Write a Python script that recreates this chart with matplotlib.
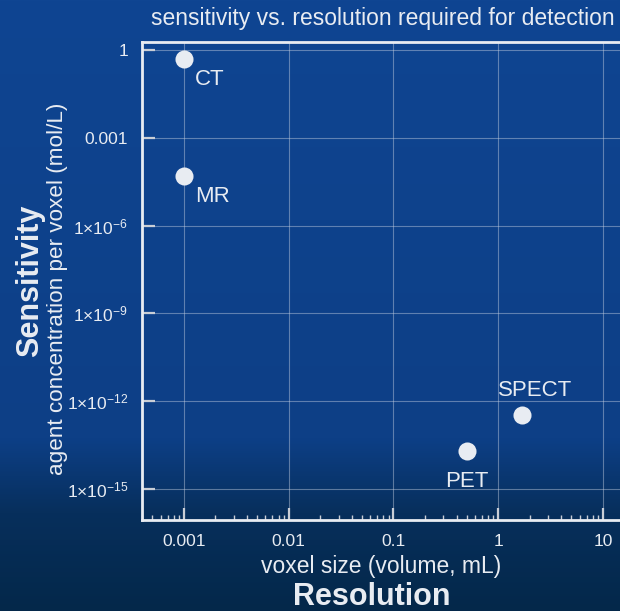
import numpy as np
import matplotlib.pyplot as plt
from matplotlib import ticker
from matplotlib.colors import LinearSegmentedColormap

plt.rcParams['font.family'] = ['Liberation Sans', 'DejaVu Sans']
plt.rcParams['mathtext.fontset'] = 'custom'
plt.rcParams['mathtext.rm'] = 'Liberation Sans'

# imaging modalities: voxel size (mL) vs agent concentration (mol/L)
modality = ['CT', 'MR', 'PET', 'SPECT']
voxel_ml = [0.001, 0.001, 0.5, 1.7]
conc_mol = [0.5, 5e-5, 2e-14, 3.3e-13]

ytick_vals = [1, 1e-3, 1e-6, 1e-9, 1e-12, 1e-15]
ytick_text = ['1', '0.001', r'$\mathregular{1{\times}10^{-6}}$', r'$\mathregular{1{\times}10^{-9}}$',
              r'$\mathregular{1{\times}10^{-12}}$', r'$\mathregular{1{\times}10^{-15}}$']
xtick_vals = [0.001, 0.01, 0.1, 1, 10]
xtick_text = ['0.001', '0.01', '0.1', '1', '10']

fg = '#e8ecf2'
fig = plt.figure(figsize=(6.2, 6.11), dpi=100)

# blue backdrop, darkening toward the bottom
bg = fig.add_axes([0, 0, 1, 1])
cmap = LinearSegmentedColormap.from_list('bg', [(0, '#0f4592'), (0.72, '#0d3f86'),
                                               (0.84, '#072f5c'), (1, '#04284a')])
grad = np.linspace(0, 1, 256).reshape(-1, 1)
bg.imshow(grad, aspect='auto', cmap=cmap, extent=[0, 1, 0, 1], origin='upper')
bg.axis('off')

ax = fig.add_axes([142/620, 1 - 520/611, 505/620, 478/611])
ax.set_facecolor('none')
ax.set_xscale('log')
ax.set_yscale('log')
ax.set_xlim(10**-3.40, 10**1.42)
ax.set_ylim(10**-16.06, 10**0.27)

ax.plot(voxel_ml, conc_mol, 'o', color=fg, markersize=13, markeredgewidth=0, zorder=5)

offsets = {'CT': (8, -15, 'left'), 'MR': (8, -15, 'left'),
           'PET': (0, -22, 'center'), 'SPECT': (9, 18, 'center')}
for name, xv, yv in zip(modality, voxel_ml, conc_mol):
    dx, dy, ha = offsets[name]
    ax.annotate(name, (xv, yv), xytext=(dx, dy), textcoords='offset points',
                ha=ha, va='center', color=fg, fontsize=16)

ax.set_yticks(ytick_vals)
ax.set_yticklabels(ytick_text)
ax.yaxis.set_minor_locator(ticker.NullLocator())
ax.set_xticks(xtick_vals)
ax.set_xticklabels(xtick_text)
ax.xaxis.set_minor_locator(ticker.LogLocator(base=10, subs=np.arange(2, 10)))
ax.xaxis.set_minor_formatter(ticker.NullFormatter())

ax.tick_params(which='major', direction='in', length=9, width=1.6, color='#c9ced6',
               labelcolor=fg, labelsize=12.5, pad=10)
ax.tick_params(which='minor', direction='in', length=3.8, width=1.0, color='#c9ced6')
ax.grid(True, which='major', color='#c5cfe0', alpha=0.45, linewidth=0.8)

for side in ['left', 'bottom', 'top']:
    ax.spines[side].set_color(fg)
    ax.spines[side].set_linewidth(2)
ax.spines['right'].set_visible(False)

fig.text(0.617, 1 - 18/611, 'sensitivity vs. resolution required for detection',
         ha='center', va='center', color=fg, fontsize=16.5)
fig.text(0.614, 1 - 566/611, 'voxel size (volume, mL)', ha='center', va='center',
         color=fg, fontsize=16.5)
fig.text(0.600, 1 - 597/611, 'Resolution', ha='center', va='center',
         color=fg, fontsize=22, fontweight='bold')
fig.text(0.092, 0.527, 'agent concentration per voxel (mol/L)', ha='center', va='center',
         rotation=90, color=fg, fontsize=16.2)
fig.text(0.048, 0.54, 'Sensitivity', ha='center', va='center', rotation=90,
         color=fg, fontsize=22, fontweight='bold')

fig.savefig('out.png', dpi=100)
